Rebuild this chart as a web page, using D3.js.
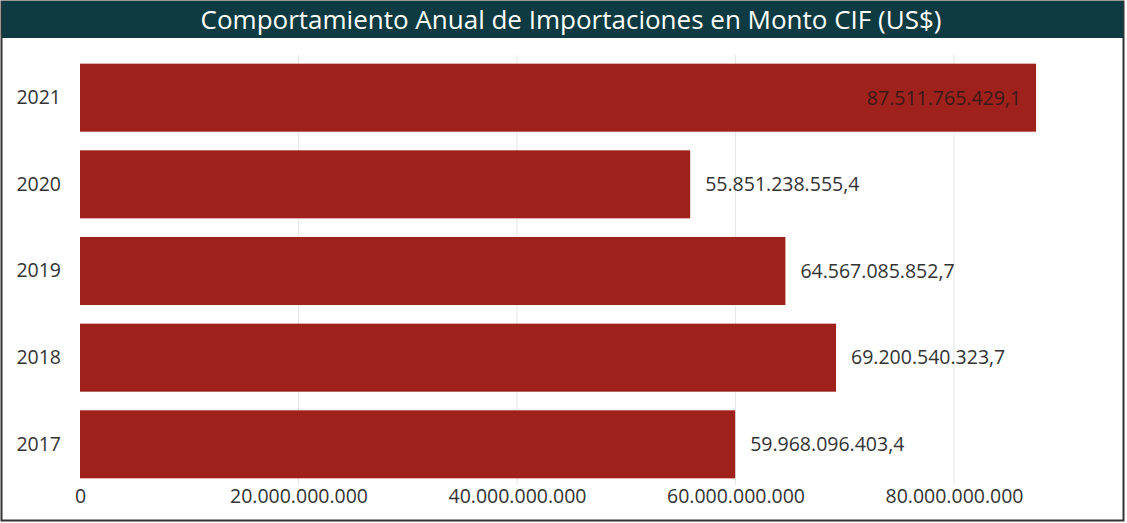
<!DOCTYPE html>
<html>
<head>
<meta charset="utf-8">
<script src="https://cdn.jsdelivr.net/npm/d3@7"></script>
<style>
  body { margin: 0; background: #fff; }
  text { font-family: "Open Sans", "Noto Sans", sans-serif; }
</style>
</head>
<body>
<div id="chart"></div>
<script>
// data
var years = ["2021", "2020", "2019", "2018", "2017"];
var montos = [87511765429.1, 55851238555.4, 64567085852.7, 69200540323.7, 59968096403.4];
var ticks = [0, 20000000000, 40000000000, 60000000000, 80000000000];

var svgWidth = 1127, svgHeight = 523;

var svg = d3.select("#chart").append("svg")
    .attr("width", svgWidth)
    .attr("height", svgHeight);

// frame
svg.append("rect")
    .attr("x", 1.5).attr("y", 1.5)
    .attr("width", svgWidth - 5).attr("height", svgHeight - 4)
    .attr("fill", "#fff")
    .attr("stroke", "#333")
    .attr("stroke-width", 2);

// title bar
svg.append("rect")
    .attr("x", 2).attr("y", 1)
    .attr("width", svgWidth - 6).attr("height", 37)
    .attr("fill", "#0e3a41");

svg.append("text")
    .attr("x", 571).attr("y", 29)
    .attr("text-anchor", "middle")
    .attr("fill", "#fff")
    .attr("font-size", "26px")
    .text("Comportamiento Anual de Importaciones en Monto CIF (US$)");

// es-style number format
var es = d3.formatLocale({ decimal: ",", thousands: ".", grouping: [3], currency: ["", ""] });
var fmtTick = es.format(",.0f");
var fmtVal = es.format(",.1f");

var xScale = d3.scaleLinear()
    .domain([0, 80000000000])
    .range([80, 954]);

var yScale = d3.scaleBand()
    .domain(years)
    .range([55, 487])
    .paddingInner(0.215)
    .paddingOuter(0.1);

// grid
svg.selectAll(".grid")
    .data(ticks.slice(1))
    .enter().append("line")
    .attr("x1", d => xScale(d)).attr("x2", d => xScale(d))
    .attr("y1", 55).attr("y2", 485)
    .attr("stroke", "#e6e6e6")
    .attr("stroke-width", 1);

// x axis
var xAxis = d3.axisBottom(xScale)
    .tickValues(ticks)
    .tickFormat(fmtTick)
    .tickSize(0)
    .tickPadding(3);

var gx = svg.append("g")
    .attr("transform", "translate(0,486)")
    .call(xAxis);
gx.select(".domain").remove();
gx.selectAll("text")
    .attr("font-size", "19.5px")
    .attr("fill", "#333")
    .attr("font-family", "\"Open Sans\", sans-serif");

// y axis
var yAxis = d3.axisLeft(yScale).tickSize(0).tickPadding(19);
var gy = svg.append("g")
    .attr("transform", "translate(80,0)")
    .call(yAxis);
gy.select(".domain").remove();
gy.selectAll("text")
    .attr("font-size", "19.5px")
    .attr("fill", "#333")
    .attr("font-family", "\"Open Sans\", sans-serif");

// bars
svg.selectAll(".bar")
    .data(montos)
    .enter().append("rect")
    .attr("x", xScale(0))
    .attr("y", (d, i) => yScale(years[i]))
    .attr("width", d => xScale(d) - xScale(0))
    .attr("height", yScale.bandwidth())
    .attr("fill", "#9f211b");

// value labels
svg.selectAll(".val")
    .data(montos)
    .enter().append("text")
    .attr("x", d => d > 80000000000 ? xScale(d) - 15 : xScale(d) + 15)
    .attr("y", (d, i) => yScale(years[i]) + yScale.bandwidth() / 2)
    .attr("dy", "0.35em")
    .attr("text-anchor", d => d > 80000000000 ? "end" : "start")
    .attr("font-size", "19.5px")
    .attr("fill", d => d > 80000000000 ? "#3a1a18" : "#333")
    .text(d => fmtVal(d));
</script>
</body>
</html>
